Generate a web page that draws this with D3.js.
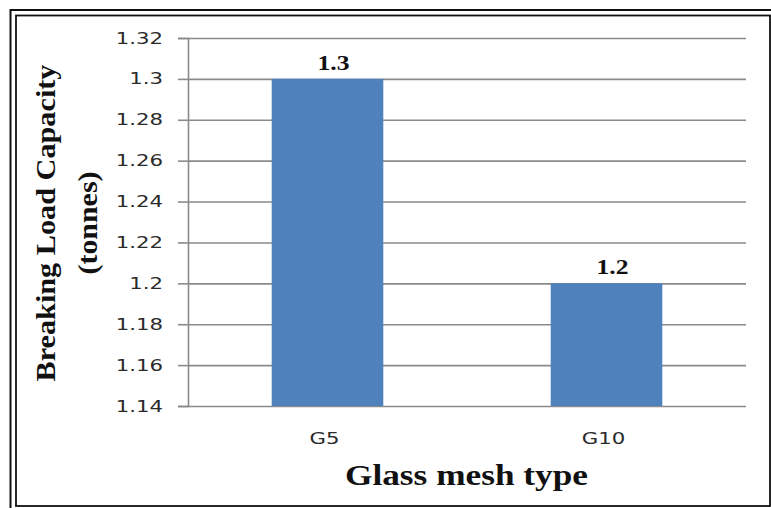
<!DOCTYPE html>
<html>
<head>
<meta charset="utf-8">
<script src="https://cdn.jsdelivr.net/npm/d3@7"></script>
<style>
  html, body { margin: 0; padding: 0; background: #fff; }
  svg { display: block; }
</style>
</head>
<body>
<svg id="chart" width="771" height="508"></svg>
<script>
const categories = ["G5", "G10"];
const values = [1.3, 1.2];
const valueLabels = ["1.3", "1.2"];
const yTicks = [1.14, 1.16, 1.18, 1.2, 1.22, 1.24, 1.26, 1.28, 1.3, 1.32];
const yTickLabels = ["1.14", "1.16", "1.18", "1.2", "1.22", "1.24", "1.26", "1.28", "1.3", "1.32"];
const yTitleLines = ["Breaking Load Capacity", "(tonnes)"];
const xTitle = "Glass mesh type";

const svg = d3.select("#chart");
const W = 771, H = 508;
const plot = { left: 188, right: 746, top: 38, bottom: 406 };

// frame (double border)
svg.append("rect").attr("x", 10.5).attr("y", 10).attr("width", 766).attr("height", 507)
  .attr("fill", "none").attr("stroke", "#111").attr("stroke-width", 2);
svg.append("rect").attr("x", 16).attr("y", 15.5).attr("width", 754).attr("height", 490.5)
  .attr("fill", "none").attr("stroke", "#111").attr("stroke-width", 1.8);

const x = d3.scaleBand().domain(categories).range([plot.left, plot.right])
  .paddingInner(0.6).paddingOuter(0.3);
const xCat = d3.scaleBand().domain(categories).range([plot.left, plot.right]);
const y = d3.scaleLinear().domain([1.14, 1.32]).range([plot.bottom, plot.top]);

// gridlines + ticks
const yAxis = d3.axisLeft(y).tickValues(yTicks).tickSize(10).tickFormat(() => "");
const gy = svg.append("g").attr("transform", `translate(${plot.left},0)`).call(yAxis);
gy.select(".domain").attr("stroke", "#8a8a8a").attr("stroke-width", 1.6);
gy.selectAll(".tick line").attr("stroke", "#8a8a8a").attr("stroke-width", 1.6);

const grid = d3.axisLeft(y).tickValues(yTicks).tickSize(-(plot.right - plot.left)).tickFormat(() => "");
const gg = svg.append("g").attr("transform", `translate(${plot.left},0)`).call(grid);
gg.select(".domain").remove();
gg.selectAll(".tick line").attr("stroke", "#8a8a8a").attr("stroke-width", 1.6);

// y tick labels
svg.append("g").selectAll("text").data(yTicks).join("text")
  .attr("transform", d => `translate(163,${y(d)}) scale(1.33,1)`)
  .attr("text-anchor", "end")
  .attr("dominant-baseline", "central")
  .attr("font-family", "DejaVu Sans")
  .attr("font-size", 16)
  .attr("fill", "#2a2a2a")
  .text((d, i) => yTickLabels[i]);

// bars
svg.append("g").selectAll("rect").data(categories).join("rect")
  .attr("x", d => x(d))
  .attr("width", x.bandwidth())
  .attr("y", (d, i) => y(values[i]))
  .attr("height", (d, i) => y(1.14) - y(values[i]))
  .attr("fill", "#4F81BD");

// value labels
svg.append("g").selectAll("text").data(categories).join("text")
  .attr("x", d => x(d) + x.bandwidth() / 2 + 6)
  .attr("y", (d, i) => y(values[i]) - 9)
  .attr("text-anchor", "middle")
  .attr("font-family", "Liberation Serif")
  .attr("font-weight", "bold")
  .attr("font-size", 21)
  .attr("textLength", 32)
  .attr("lengthAdjust", "spacingAndGlyphs")
  .attr("fill", "#111")
  .text((d, i) => valueLabels[i]);

// x tick labels
svg.append("g").selectAll("text").data(categories).join("text")
  .attr("transform", d => `translate(${xCat(d) + xCat.bandwidth() / 2 - 3},444) scale(1.33,1)`)
  .attr("text-anchor", "middle")
  .attr("font-family", "DejaVu Sans")
  .attr("font-size", 16)
  .attr("fill", "#2a2a2a")
  .text(d => d);

// x title
svg.append("text")
  .attr("x", 345).attr("y", 485)
  .attr("font-family", "Liberation Serif")
  .attr("font-weight", "bold")
  .attr("font-size", 29)
  .attr("textLength", 243)
  .attr("lengthAdjust", "spacingAndGlyphs")
  .attr("fill", "#111")
  .text(xTitle);

// y title
const yLens = [317, 103];
const yBase = [55, 97];
yTitleLines.forEach((t, i) => {
  svg.append("text")
    .attr("transform", `translate(${yBase[i]},223) rotate(-90)`)
    .attr("text-anchor", "middle")
    .attr("font-family", "Liberation Serif")
    .attr("font-weight", "bold")
    .attr("font-size", 28)
    .attr("textLength", yLens[i])
    .attr("lengthAdjust", "spacingAndGlyphs")
    .attr("fill", "#111")
    .text(t);
});
</script>
</body>
</html>
